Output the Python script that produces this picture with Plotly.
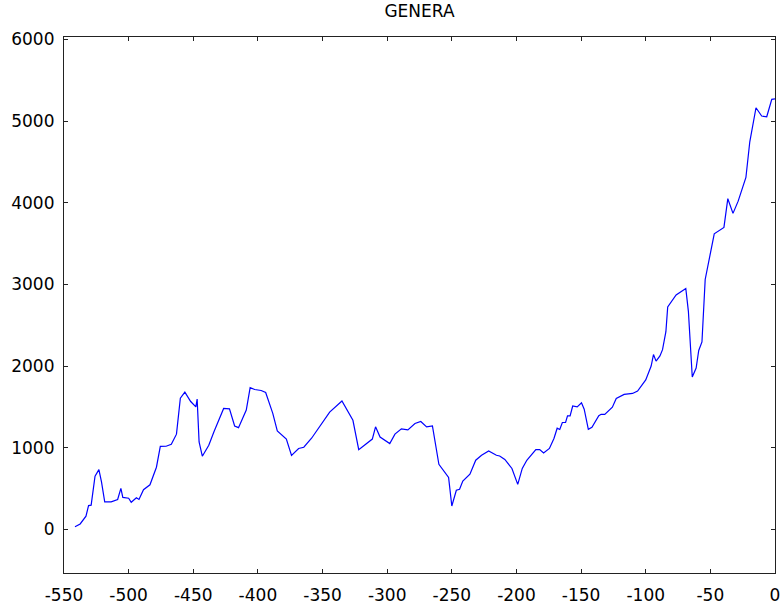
import plotly.graph_objects as go

# Number of marine genera through time (Myr before present)
time_myr = [
    -541.5, -537.5, -533, -531, -529, -526, -523, -521, -518.5, -513.5,
    -508.5, -506, -504.5, -500, -498, -494, -492, -488.5, -483.5, -478.5,
    -475.5, -471, -467, -463, -460, -456.5, -452, -448, -447, -445.5,
    -443, -438, -434, -426.5, -422, -418, -415, -409, -406, -402.5,
    -397.5, -394, -388.5, -385, -378, -374, -368.5, -364.5, -358.5, -344.5,
    -335, -326.5, -322, -316, -311.5, -309, -305.5, -298, -294, -289,
    -284, -278.5, -274, -269.5, -265, -260, -252.5, -250, -246.5, -244,
    -241.5, -236, -231.5, -227, -221.5, -215.5, -213, -209, -203.5, -199,
    -195.5, -192, -185, -182, -179, -174.5, -171, -168.5, -166.5, -164.5,
    -162, -160.5, -158.5, -156.5, -153, -149.7, -147.6, -144.4, -141.6, -136.3,
    -134.5, -131.7, -125.8, -122.8, -116.7, -110.2, -106.3, -100, -95.8, -94,
    -92, -89, -87, -84.4, -83, -76.5, -69, -67, -64, -61,
    -59, -56.5, -54, -47, -39.5, -36.5, -32.5, -28.5, -22.5, -19.5,
    -14.7, -10.3, -6.4, -2.5, 0,
]
genera = [
    30, 65, 160, 290, 295, 650, 730, 580, 335, 335,
    365, 500, 390, 380, 330, 385, 365, 485, 545, 760,
    1015, 1017, 1040, 1165, 1605, 1680, 1565, 1500, 1595, 1070,
    895, 1030, 1195, 1480, 1475, 1265, 1245, 1460, 1735, 1712,
    1700, 1675, 1420, 1205, 1105, 905, 990, 1005, 1115, 1435,
    1572, 1335, 975, 1050, 1105, 1255, 1130, 1050, 1165, 1230,
    1218, 1295, 1320, 1254, 1266, 795, 635, 285, 478, 490,
    590, 674, 846, 907, 960, 907, 898, 855, 745, 550,
    745, 845, 975, 977, 935, 990, 1112, 1238, 1222, 1308,
    1308, 1389, 1389, 1510, 1499, 1550, 1471, 1225, 1250, 1391,
    1408, 1408, 1495, 1603, 1652, 1664, 1694, 1830, 2000, 2140,
    2060, 2124, 2200, 2420, 2725, 2870, 2950, 2670, 1865, 1975,
    2190, 2295, 3060, 3620, 3698, 4050, 3870, 4020, 4310, 4747,
    5164, 5063, 5054, 5267, 5274,
]

x_ticks = list(range(-550, 1, 50))
y_ticks = list(range(0, 6001, 1000))

fig = go.Figure(
    go.Scatter(
        x=time_myr,
        y=genera,
        mode="lines",
        line=dict(color="#0000ff", width=1.2),
        showlegend=False,
    )
)

axis_style = dict(
    showline=True,
    linecolor="#222222",
    linewidth=1.2,
    mirror="ticks",
    ticks="inside",
    ticklen=4,
    tickwidth=1,
    tickcolor="#222222",
    showgrid=False,
    zeroline=False,
    automargin=False,
    ticklabeloverflow="allow",
    tickfont=dict(family="DejaVu Sans", size=17, color="#000000"),
)

fig.update_xaxes(
    range=[-550, 0],
    tickmode="array",
    tickvals=x_ticks,
    ticktext=[str(v) for v in x_ticks],
    ticklabelstandoff=6,
    **axis_style,
)
fig.update_yaxes(
    range=[-536, 6031],
    tickmode="array",
    tickvals=y_ticks,
    ticktext=[str(v) for v in y_ticks],
    ticklabelstandoff=5,
    **axis_style,
)

fig.update_layout(
    width=780,
    height=603,
    margin=dict(l=64, r=5, t=37, b=30, autoexpand=False),
    paper_bgcolor="white",
    plot_bgcolor="white",
    title=dict(
        text="GENERA",
        x=0.5,
        xref="paper",
        y=0.992,
        yref="container",
        yanchor="top",
        font=dict(family="DejaVu Sans", size=17, color="#000000"),
    ),
)

fig.write_html("out.html")
